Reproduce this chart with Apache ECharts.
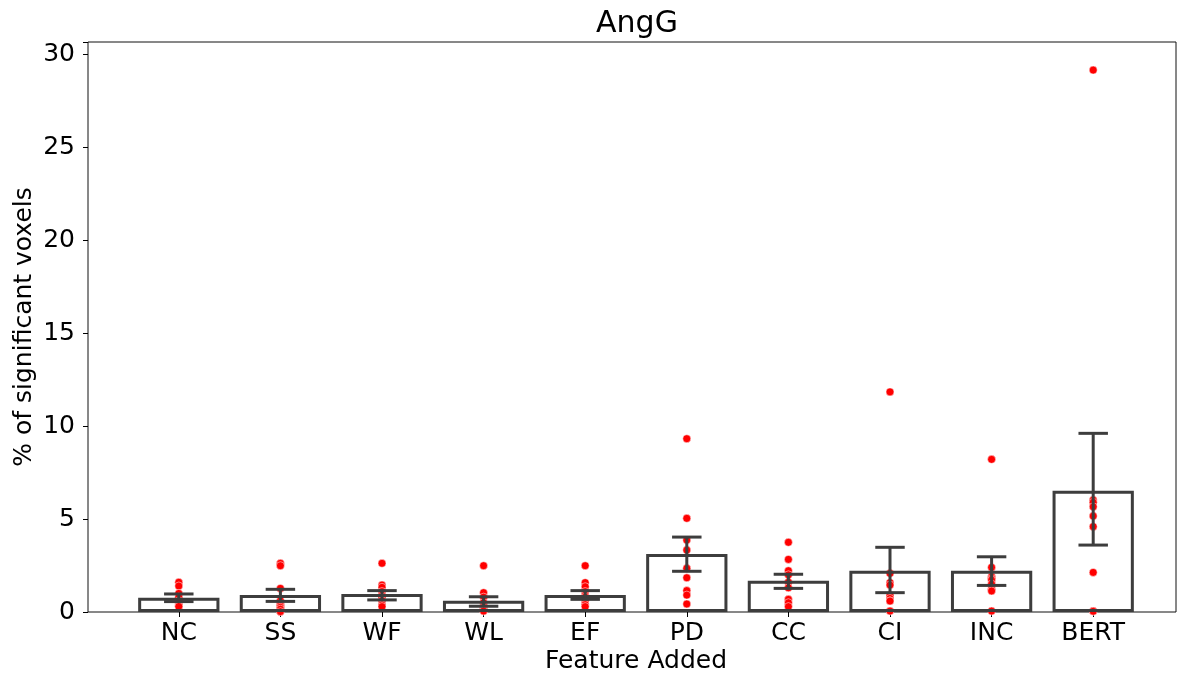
<!DOCTYPE html>
<html>
<head>
<meta charset="utf-8">
<script src="https://cdn.jsdelivr.net/npm/echarts@6/dist/echarts.min.js"></script>
<style>
html,body{margin:0;padding:0;background:#fff;}
#chart{width:1177px;height:681px;}
</style>
</head>
<body>
<div id="chart"></div>
<script>
// ---- data ----
const categories = ['NC','SS','WF','WL','EF','PD','CC','CI','INC','BERT'];
const means   = [0.77, 0.91, 0.97, 0.61, 0.91, 3.12, 1.68, 2.22, 2.22, 6.52];
const ciLow   = [0.56, 0.57, 0.65, 0.31, 0.68, 2.19, 1.27, 1.04, 1.43, 3.60];
const ciHigh  = [0.97, 1.22, 1.15, 0.82, 1.15, 4.03, 2.03, 3.48, 2.97, 9.61];
const subjectValues = [
  [1.60, 1.40, 1.00, 0.80, 0.60, 0.50, 0.40, 0.32, 0.30],          // NC
  [2.62, 2.49, 1.27, 0.60, 0.45, 0.35, 0.25, 0.15, 0.02],          // SS
  [2.62, 1.45, 1.33, 1.10, 0.90, 0.80, 0.60, 0.38, 0.29],          // WF
  [2.49, 1.04, 0.80, 0.50, 0.30, 0.20, 0.10, 0.07, 0.05],          // WL
  [2.49, 1.58, 1.36, 1.10, 0.90, 0.80, 0.60, 0.40, 0.29],          // EF
  [9.32, 5.04, 3.87, 3.33, 2.35, 1.84, 1.15, 0.91, 0.43],          // PD
  [3.75, 2.83, 2.22, 2.00, 1.60, 1.30, 0.68, 0.50, 0.29],          // CC
  [11.84, 2.08, 1.58, 1.45, 0.90, 0.73, 0.60, 0.59, 0.05],         // CI
  [8.21, 2.40, 1.90, 1.80, 1.72, 1.50, 1.22, 1.13, 0.05],          // INC
  [29.15, 6.02, 5.90, 5.66, 5.16, 4.59, 2.13, 0.05, 0.04]          // BERT
];
const yTicks = [0, 5, 10, 15, 20, 25, 30];
const yMax = 30.66;

// ---- build series data ----
const pointData = [];
subjectValues.forEach((vals, i) => vals.forEach(v => pointData.push([i, v])));
const errData = categories.map((c, i) => [i, ciLow[i], ciHigh[i]]);

const FONT = 'DejaVu Sans';
const EDGE = '#3d3d3d';

const chart = echarts.init(document.getElementById('chart'), null, {renderer: 'canvas'});
chart.setOption({
  animation: false,
  backgroundColor: '#fff',
  textStyle: {fontFamily: FONT},
  title: {
    text: 'AngG', left: 632, top: 4, textAlign: 'center',
    textStyle: {fontFamily: FONT, fontSize: 30, fontWeight: 'normal', color: '#000'}
  },
  grid: [
    {left: 88, right: 1, top: 42, bottom: 69, show: true, borderColor: '#111', borderWidth: 1, backgroundColor: 'transparent'},
    {left: 128, width: 1016, top: 42, bottom: 69}
  ],
  xAxis: [
    {gridIndex: 0, type: 'value', min: 0, max: 1, show: false},
    {gridIndex: 1, type: 'category', data: categories,
     axisLine: {show: false},
     axisTick: {show: true, alignWithLabel: true, length: 5, lineStyle: {color: '#000'}},
     axisLabel: {interval: 0, fontSize: 25, color: '#000', fontFamily: FONT, margin: 9},
     name: 'Feature Added', nameLocation: 'middle', nameGap: 37, nameMoveOverlap: false,
     nameTextStyle: {fontSize: 25, color: '#000', fontFamily: FONT}
    }
  ],
  yAxis: [
    {gridIndex: 0, type: 'value', min: 0, max: yMax, interval: 5,
     axisLine: {show: false},
     axisTick: {show: true, length: 5, lineStyle: {color: '#000'}},
     splitLine: {show: false},
     axisLabel: {fontSize: 25, color: '#000', fontFamily: FONT, margin: 13,
       formatter: v => yTicks.indexOf(v) >= 0 ? String(v) : ''},
     name: '% of significant voxels', nameLocation: 'middle', nameGap: 51, nameRotate: 90,
     nameMoveOverlap: false,
     nameTextStyle: {fontSize: 25, color: '#000', fontFamily: FONT}
    },
    {gridIndex: 1, type: 'value', min: 0, max: yMax, show: false}
  ],
  series: [
    {
      type: 'scatter', xAxisIndex: 1, yAxisIndex: 1, z: 2,
      data: pointData, symbolSize: 8,
      itemStyle: {color: '#ff0000', borderColor: '#ffffff', borderWidth: 0.5, opacity: 1}
    },
    {
      type: 'bar', xAxisIndex: 1, yAxisIndex: 1, z: 3,
      data: means, barWidth: '80%',
      itemStyle: {color: 'rgba(255,255,255,0)', borderColor: EDGE, borderWidth: 3}
    },
    {
      type: 'custom', xAxisIndex: 1, yAxisIndex: 1, z: 4,
      data: errData,
      renderItem: function (params, api) {
        const x = api.value(0);
        const lo = api.coord([x, api.value(1)]);
        const hi = api.coord([x, api.value(2)]);
        const half = api.size([1, 0])[0] * 0.145;
        const style = {stroke: EDGE, lineWidth: 3};
        return {
          type: 'group',
          children: [
            {type: 'line', shape: {x1: lo[0], y1: lo[1], x2: hi[0], y2: hi[1]}, style: style},
            {type: 'line', shape: {x1: lo[0] - half, y1: lo[1], x2: lo[0] + half, y2: lo[1]}, style: style},
            {type: 'line', shape: {x1: hi[0] - half, y1: hi[1], x2: hi[0] + half, y2: hi[1]}, style: style}
          ]
        };
      }
    }
  ]
});
</script>
</body>
</html>
